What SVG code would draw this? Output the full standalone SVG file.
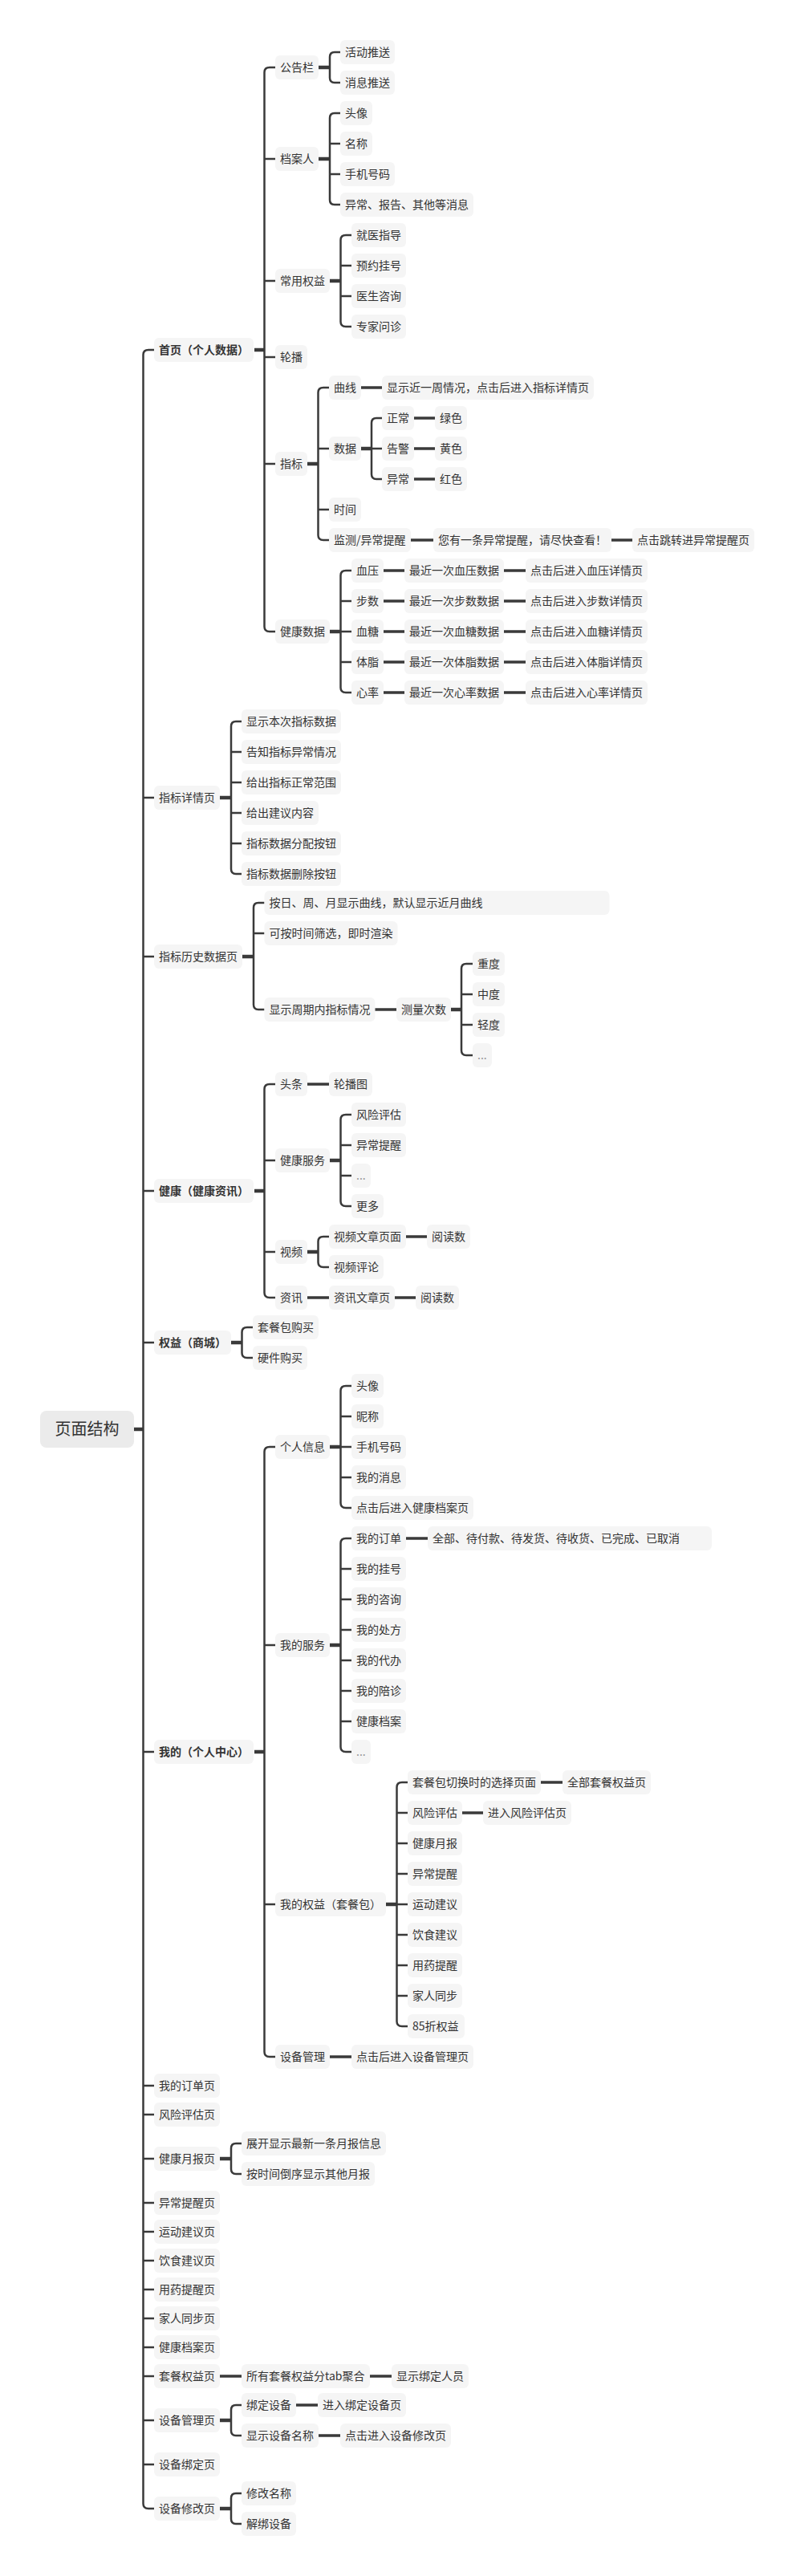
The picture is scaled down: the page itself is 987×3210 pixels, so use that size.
<svg xmlns="http://www.w3.org/2000/svg" width="987" height="3210" viewBox="0 0 987 3210">
<style>
.n rect{fill:#f5f5f5}
.n text{font-family:"Noto Sans CJK SC","Microsoft YaHei",sans-serif;font-size:14px;fill:#333}
.n text.b{font-weight:bold}
.n text.g{fill:#999}
#root rect{fill:#ebebeb}
#root text{font-family:"Noto Sans CJK SC",sans-serif;font-size:20px;fill:#333}
#connectors path{fill:none;stroke:#3a3a3a;stroke-width:2.5;stroke-linecap:butt}
#connectors path.p{stroke-width:4.5}
#connectors path.s{stroke-width:3.5}
</style>
<rect width="987" height="3210" fill="#fff"/>
<g id="connectors">
<!-- root -->
<path class="p" d="M167 1781H179"/>
<path d="M192 436H185Q178.5 436 178.5 442V3120Q178.5 3126 185 3126H192M178.5 994H192M178.5 1192H192M178.5 1484H192M178.5 1673H192M178.5 2183H192M178.5 2599H192M178.5 2635H192M178.5 2690H192M178.5 2745H192M178.5 2781H192M178.5 2817H192M178.5 2853H192M178.5 2889H192M178.5 2925H192M178.5 2961H192M178.5 3016H192M178.5 3071H192"/>
<!-- 首页 -->
<path class="p" d="M317 436H330"/>
<path d="M343 84H336Q329.5 84 329.5 90V781Q329.5 787 336 787H343M329.5 198H343M329.5 350H343M329.5 445H343M329.5 578H343"/>
<path class="p" d="M397 84H412"/>
<path d="M424 65H417Q411 65 411 71V97Q411 103 417 103H424"/>
<path class="p" d="M397 198H412"/>
<path d="M424 141H417Q411 141 411 147V249Q411 255 417 255H424M411 179H424M411 217H424"/>
<path class="p" d="M411 350H425"/>
<path d="M438 293H431Q424.5 293 424.5 299V401Q424.5 407 431 407H438M424.5 331H438M424.5 369H438"/>
<path class="p" d="M383 578H397"/>
<path d="M410 483H403Q396.5 483 396.5 489V667Q396.5 673 403 673H410M396.5 559H410M396.5 635H410"/>
<path class="s" d="M450 483H476"/>
<path class="p" d="M450 559H464"/>
<path d="M476 521H469Q463 521 463 527V591Q463 597 469 597H476M463 559H476"/>
<path class="s" d="M516 521H542M516 559H542M516 597H542"/>
<path class="s" d="M512 673H540M762 673H788"/>
<path class="p" d="M411 787H425"/>
<path d="M438 711H431Q424.5 711 424.5 717V857Q424.5 863 431 863H438M424.5 749H438M424.5 787H438M424.5 825H438"/>
<path class="s" d="M478 711H504M478 749H504M478 787H504M478 825H504M478 863H504M628 711H655M628 749H655M628 787H655M628 825H655M628 863H655"/>
<!-- 指标详情页 -->
<path class="p" d="M274 994H289"/>
<path d="M301 899H294Q288 899 288 905V1083Q288 1089 294 1089H301M288 937H301M288 975H301M288 1013H301M288 1051H301"/>
<!-- 指标历史数据页 -->
<path class="p" d="M302 1192H317"/>
<path d="M329.5 1125H322Q316 1125 316 1131V1252Q316 1258 322 1258H329.5M316 1163H329.5"/>
<path class="s" d="M467 1258H494"/>
<path class="p" d="M562 1258H576"/>
<path d="M589 1201H581Q575 1201 575 1207V1309Q575 1315 581 1315H589M575 1239H589M575 1277H589"/>
<!-- 健康 -->
<path class="p" d="M317 1484H330"/>
<path d="M343 1351H336Q329.5 1351 329.5 1357V1611Q329.5 1617 336 1617H343M329.5 1446H343M329.5 1560H343"/>
<path class="s" d="M383 1351H410"/>
<path class="p" d="M411 1446H425"/>
<path d="M438 1389H431Q424.5 1389 424.5 1395V1497Q424.5 1503 431 1503H438M424.5 1427H438M424.5 1465H438"/>
<path class="p" d="M383 1560H397"/>
<path d="M410 1541H403Q396.5 1541 396.5 1547V1573Q396.5 1579 403 1579H410"/>
<path class="s" d="M505 1541H532"/>
<path class="s" d="M383 1617H410M492 1617H518"/>
<!-- 权益 -->
<path class="p" d="M288 1673H302"/>
<path d="M315 1654H308Q301.5 1654 301.5 1660V1686Q301.5 1692 308 1692H315"/>
<!-- 我的 -->
<path class="p" d="M317 2183H330"/>
<path d="M343 1803H336Q329.5 1803 329.5 1809V2557Q329.5 2563 336 2563H343M329.5 2050H343M329.5 2373H343"/>
<path class="p" d="M411 1803H425"/>
<path d="M438 1727H431Q424.5 1727 424.5 1733V1873Q424.5 1879 431 1879H438M424.5 1765H438M424.5 1803H438M424.5 1841H438"/>
<path class="p" d="M411 2050H425"/>
<path d="M438 1917H431Q424.5 1917 424.5 1923V2177Q424.5 2183 431 2183H438M424.5 1955H438M424.5 1993H438M424.5 2031H438M424.5 2069H438M424.5 2107H438M424.5 2145H438"/>
<path class="s" d="M506 1917H533"/>
<path class="p" d="M481 2373H495"/>
<path d="M508 2221H501Q494.5 2221 494.5 2227V2519Q494.5 2525 501 2525H508M494.5 2259H508M494.5 2297H508M494.5 2335H508M494.5 2373H508M494.5 2411H508M494.5 2449H508M494.5 2487H508"/>
<path class="s" d="M674 2221H701M576 2259H602"/>
<path class="s" d="M411 2563H438"/>
<!-- 健康月报页 -->
<path class="p" d="M274 2690H289"/>
<path d="M301 2671H294Q288 2671 288 2677V2703Q288 2709 294 2709H301"/>
<!-- 套餐权益页 -->
<path class="s" d="M274 2961H301M461 2961H488"/>
<!-- 设备管理页 -->
<path class="p" d="M274 3016H289"/>
<path d="M301 2997H294Q288 2997 288 3003V3029Q288 3035 294 3035H301"/>
<path class="s" d="M369 2997H396M397 3035H424"/>
<!-- 设备修改页 -->
<path class="p" d="M274 3126H289"/>
<path d="M301 3107H294Q288 3107 288 3113V3139Q288 3145 294 3145H301"/>
</g>

<g id="root"><rect x="50" y="1758" width="117" height="46" rx="8"/><text x="108.5" y="1788" text-anchor="middle">页面结构</text></g>

<!-- Level 1 -->
<g id="n1" class="n"><rect x="192" y="421" width="124" height="30" rx="6"/><text class="b" x="198" y="441">首页（个人数据）</text></g>
<g id="n2" class="n"><rect x="192" y="979" width="82" height="30" rx="6"/><text x="198" y="999">指标详情页</text></g>
<g id="n3" class="n"><rect x="192" y="1177" width="110" height="30" rx="6"/><text x="198" y="1197">指标历史数据页</text></g>
<g id="n4" class="n"><rect x="192" y="1469" width="124" height="30" rx="6"/><text class="b" x="198" y="1489">健康（健康资讯）</text></g>
<g id="n5" class="n"><rect x="192" y="1658" width="96" height="30" rx="6"/><text class="b" x="198" y="1678">权益（商城）</text></g>
<g id="n6" class="n"><rect x="192" y="2168" width="124" height="30" rx="6"/><text class="b" x="198" y="2188">我的（个人中心）</text></g>
<g id="n7" class="n"><rect x="192" y="2584" width="82" height="30" rx="6"/><text x="198" y="2604">我的订单页</text></g>
<g id="n8" class="n"><rect x="192" y="2620" width="82" height="30" rx="6"/><text x="198" y="2640">风险评估页</text></g>
<g id="n9" class="n"><rect x="192" y="2675" width="82" height="30" rx="6"/><text x="198" y="2695">健康月报页</text></g>
<g id="n10" class="n"><rect x="192" y="2730" width="82" height="30" rx="6"/><text x="198" y="2750">异常提醒页</text></g>
<g id="n11" class="n"><rect x="192" y="2766" width="82" height="30" rx="6"/><text x="198" y="2786">运动建议页</text></g>
<g id="n12" class="n"><rect x="192" y="2802" width="82" height="30" rx="6"/><text x="198" y="2822">饮食建议页</text></g>
<g id="n13" class="n"><rect x="192" y="2838" width="82" height="30" rx="6"/><text x="198" y="2858">用药提醒页</text></g>
<g id="n14" class="n"><rect x="192" y="2874" width="82" height="30" rx="6"/><text x="198" y="2894">家人同步页</text></g>
<g id="n15" class="n"><rect x="192" y="2910" width="82" height="30" rx="6"/><text x="198" y="2930">健康档案页</text></g>
<g id="n16" class="n"><rect x="192" y="2946" width="82" height="30" rx="6"/><text x="198" y="2966">套餐权益页</text></g>
<g id="n17" class="n"><rect x="192" y="3001" width="82" height="30" rx="6"/><text x="198" y="3021">设备管理页</text></g>
<g id="n18" class="n"><rect x="192" y="3056" width="82" height="30" rx="6"/><text x="198" y="3076">设备绑定页</text></g>
<g id="n19" class="n"><rect x="192" y="3111" width="82" height="30" rx="6"/><text x="198" y="3131">设备修改页</text></g>

<!-- 首页 subtree -->
<g id="n1-1" class="n"><rect x="343" y="69" width="54" height="30" rx="6"/><text x="349" y="89">公告栏</text></g>
<g id="n1-1-1" class="n"><rect x="424" y="50" width="68" height="30" rx="6"/><text x="430" y="70">活动推送</text></g>
<g id="n1-1-2" class="n"><rect x="424" y="88" width="68" height="30" rx="6"/><text x="430" y="108">消息推送</text></g>
<g id="n1-2" class="n"><rect x="343" y="183" width="54" height="30" rx="6"/><text x="349" y="203">档案人</text></g>
<g id="n1-2-1" class="n"><rect x="424" y="126" width="40" height="30" rx="6"/><text x="430" y="146">头像</text></g>
<g id="n1-2-2" class="n"><rect x="424" y="164" width="40" height="30" rx="6"/><text x="430" y="184">名称</text></g>
<g id="n1-2-3" class="n"><rect x="424" y="202" width="68" height="30" rx="6"/><text x="430" y="222">手机号码</text></g>
<g id="n1-2-4" class="n"><rect x="424" y="240" width="166" height="30" rx="6"/><text x="430" y="260">异常、报告、其他等消息</text></g>
<g id="n1-3" class="n"><rect x="343" y="335" width="68" height="30" rx="6"/><text x="349" y="355">常用权益</text></g>
<g id="n1-3-1" class="n"><rect x="438" y="278" width="68" height="30" rx="6"/><text x="444" y="298">就医指导</text></g>
<g id="n1-3-2" class="n"><rect x="438" y="316" width="68" height="30" rx="6"/><text x="444" y="336">预约挂号</text></g>
<g id="n1-3-3" class="n"><rect x="438" y="354" width="68" height="30" rx="6"/><text x="444" y="374">医生咨询</text></g>
<g id="n1-3-4" class="n"><rect x="438" y="392" width="68" height="30" rx="6"/><text x="444" y="412">专家问诊</text></g>
<g id="n1-4" class="n"><rect x="343" y="430" width="40" height="30" rx="6"/><text x="349" y="450">轮播</text></g>
<g id="n1-5" class="n"><rect x="343" y="563" width="40" height="30" rx="6"/><text x="349" y="583">指标</text></g>
<g id="n1-5-1" class="n"><rect x="410" y="468" width="40" height="30" rx="6"/><text x="416" y="488">曲线</text></g>
<g id="n1-5-1-1" class="n"><rect x="476" y="468" width="264" height="30" rx="6"/><text x="482" y="488">显示近一周情况，点击后进入指标详情页</text></g>
<g id="n1-5-2" class="n"><rect x="410" y="544" width="40" height="30" rx="6"/><text x="416" y="564">数据</text></g>
<g id="n1-5-2-1" class="n"><rect x="476" y="506" width="40" height="30" rx="6"/><text x="482" y="526">正常</text></g>
<g id="n1-5-2-1-1" class="n"><rect x="542" y="506" width="40" height="30" rx="6"/><text x="548" y="526">绿色</text></g>
<g id="n1-5-2-2" class="n"><rect x="476" y="544" width="40" height="30" rx="6"/><text x="482" y="564">告警</text></g>
<g id="n1-5-2-2-1" class="n"><rect x="542" y="544" width="40" height="30" rx="6"/><text x="548" y="564">黄色</text></g>
<g id="n1-5-2-3" class="n"><rect x="476" y="582" width="40" height="30" rx="6"/><text x="482" y="602">异常</text></g>
<g id="n1-5-2-3-1" class="n"><rect x="542" y="582" width="40" height="30" rx="6"/><text x="548" y="602">红色</text></g>
<g id="n1-5-3" class="n"><rect x="410" y="620" width="40" height="30" rx="6"/><text x="416" y="640">时间</text></g>
<g id="n1-5-4" class="n"><rect x="410" y="658" width="102" height="30" rx="6"/><text x="416" y="678">监测/异常提醒</text></g>
<g id="n1-5-4-1" class="n"><rect x="540" y="658" width="222" height="30" rx="6"/><text x="546" y="678">您有一条异常提醒，请尽快查看！</text></g>
<g id="n1-5-4-1-1" class="n"><rect x="788" y="658" width="152" height="30" rx="6"/><text x="794" y="678">点击跳转进异常提醒页</text></g>
<g id="n1-6" class="n"><rect x="343" y="772" width="68" height="30" rx="6"/><text x="349" y="792">健康数据</text></g>
<g id="n1-6-1" class="n"><rect x="438" y="696" width="40" height="30" rx="6"/><text x="444" y="716">血压</text></g>
<g id="n1-6-1-1" class="n"><rect x="504" y="696" width="124" height="30" rx="6"/><text x="510" y="716">最近一次血压数据</text></g>
<g id="n1-6-1-1-1" class="n"><rect x="655" y="696" width="152" height="30" rx="6"/><text x="661" y="716">点击后进入血压详情页</text></g>
<g id="n1-6-2" class="n"><rect x="438" y="734" width="40" height="30" rx="6"/><text x="444" y="754">步数</text></g>
<g id="n1-6-2-1" class="n"><rect x="504" y="734" width="124" height="30" rx="6"/><text x="510" y="754">最近一次步数数据</text></g>
<g id="n1-6-2-1-1" class="n"><rect x="655" y="734" width="152" height="30" rx="6"/><text x="661" y="754">点击后进入步数详情页</text></g>
<g id="n1-6-3" class="n"><rect x="438" y="772" width="40" height="30" rx="6"/><text x="444" y="792">血糖</text></g>
<g id="n1-6-3-1" class="n"><rect x="504" y="772" width="124" height="30" rx="6"/><text x="510" y="792">最近一次血糖数据</text></g>
<g id="n1-6-3-1-1" class="n"><rect x="655" y="772" width="152" height="30" rx="6"/><text x="661" y="792">点击后进入血糖详情页</text></g>
<g id="n1-6-4" class="n"><rect x="438" y="810" width="40" height="30" rx="6"/><text x="444" y="830">体脂</text></g>
<g id="n1-6-4-1" class="n"><rect x="504" y="810" width="124" height="30" rx="6"/><text x="510" y="830">最近一次体脂数据</text></g>
<g id="n1-6-4-1-1" class="n"><rect x="655" y="810" width="152" height="30" rx="6"/><text x="661" y="830">点击后进入体脂详情页</text></g>
<g id="n1-6-5" class="n"><rect x="438" y="848" width="40" height="30" rx="6"/><text x="444" y="868">心率</text></g>
<g id="n1-6-5-1" class="n"><rect x="504" y="848" width="124" height="30" rx="6"/><text x="510" y="868">最近一次心率数据</text></g>
<g id="n1-6-5-1-1" class="n"><rect x="655" y="848" width="152" height="30" rx="6"/><text x="661" y="868">点击后进入心率详情页</text></g>

<!-- 指标详情页 subtree -->
<g id="n2-1" class="n"><rect x="301" y="884" width="124" height="30" rx="6"/><text x="307" y="904">显示本次指标数据</text></g>
<g id="n2-2" class="n"><rect x="301" y="922" width="124" height="30" rx="6"/><text x="307" y="942">告知指标异常情况</text></g>
<g id="n2-3" class="n"><rect x="301" y="960" width="124" height="30" rx="6"/><text x="307" y="980">给出指标正常范围</text></g>
<g id="n2-4" class="n"><rect x="301" y="998" width="96" height="30" rx="6"/><text x="307" y="1018">给出建议内容</text></g>
<g id="n2-5" class="n"><rect x="301" y="1036" width="124" height="30" rx="6"/><text x="307" y="1056">指标数据分配按钮</text></g>
<g id="n2-6" class="n"><rect x="301" y="1074" width="124" height="30" rx="6"/><text x="307" y="1094">指标数据删除按钮</text></g>

<!-- 指标历史数据页 subtree -->
<g id="n3-1" class="n"><rect x="329.5" y="1110" width="430" height="30" rx="6"/><text x="335.5" y="1130">按日、周、月显示曲线，默认显示近月曲线</text></g>
<g id="n3-2" class="n"><rect x="329.5" y="1148" width="166" height="30" rx="6"/><text x="335.5" y="1168">可按时间筛选，即时渲染</text></g>
<g id="n3-3" class="n"><rect x="329.5" y="1243" width="138" height="30" rx="6"/><text x="335.5" y="1263">显示周期内指标情况</text></g>
<g id="n3-3-1" class="n"><rect x="494" y="1243" width="68" height="30" rx="6"/><text x="500" y="1263">测量次数</text></g>
<g id="n3-3-1-1" class="n"><rect x="589" y="1186" width="40" height="30" rx="6"/><text x="595" y="1206">重度</text></g>
<g id="n3-3-1-2" class="n"><rect x="589" y="1224" width="40" height="30" rx="6"/><text x="595" y="1244">中度</text></g>
<g id="n3-3-1-3" class="n"><rect x="589" y="1262" width="40" height="30" rx="6"/><text x="595" y="1282">轻度</text></g>
<g id="n3-3-1-4" class="n"><rect x="589" y="1300" width="24" height="30" rx="6"/><text class="g" x="595" y="1320">...</text></g>

<!-- 健康 subtree -->
<g id="n4-1" class="n"><rect x="343" y="1336" width="40" height="30" rx="6"/><text x="349" y="1356">头条</text></g>
<g id="n4-1-1" class="n"><rect x="410" y="1336" width="54" height="30" rx="6"/><text x="416" y="1356">轮播图</text></g>
<g id="n4-2" class="n"><rect x="343" y="1431" width="68" height="30" rx="6"/><text x="349" y="1451">健康服务</text></g>
<g id="n4-2-1" class="n"><rect x="438" y="1374" width="68" height="30" rx="6"/><text x="444" y="1394">风险评估</text></g>
<g id="n4-2-2" class="n"><rect x="438" y="1412" width="68" height="30" rx="6"/><text x="444" y="1432">异常提醒</text></g>
<g id="n4-2-3" class="n"><rect x="438" y="1450" width="24" height="30" rx="6"/><text class="g" x="444" y="1470">...</text></g>
<g id="n4-2-4" class="n"><rect x="438" y="1488" width="40" height="30" rx="6"/><text x="444" y="1508">更多</text></g>
<g id="n4-3" class="n"><rect x="343" y="1545" width="40" height="30" rx="6"/><text x="349" y="1565">视频</text></g>
<g id="n4-3-1" class="n"><rect x="410" y="1526" width="96" height="30" rx="6"/><text x="416" y="1546">视频文章页面</text></g>
<g id="n4-3-1-1" class="n"><rect x="532" y="1526" width="54" height="30" rx="6"/><text x="538" y="1546">阅读数</text></g>
<g id="n4-3-2" class="n"><rect x="410" y="1564" width="68" height="30" rx="6"/><text x="416" y="1584">视频评论</text></g>
<g id="n4-4" class="n"><rect x="343" y="1602" width="40" height="30" rx="6"/><text x="349" y="1622">资讯</text></g>
<g id="n4-4-1" class="n"><rect x="410" y="1602" width="82" height="30" rx="6"/><text x="416" y="1622">资讯文章页</text></g>
<g id="n4-4-1-1" class="n"><rect x="518" y="1602" width="54" height="30" rx="6"/><text x="524" y="1622">阅读数</text></g>

<!-- 权益 subtree -->
<g id="n5-1" class="n"><rect x="315" y="1639" width="82" height="30" rx="6"/><text x="321" y="1659">套餐包购买</text></g>
<g id="n5-2" class="n"><rect x="315" y="1677" width="68" height="30" rx="6"/><text x="321" y="1697">硬件购买</text></g>

<!-- 我的 subtree -->
<g id="n6-1" class="n"><rect x="343" y="1788" width="68" height="30" rx="6"/><text x="349" y="1808">个人信息</text></g>
<g id="n6-1-1" class="n"><rect x="438" y="1712" width="40" height="30" rx="6"/><text x="444" y="1732">头像</text></g>
<g id="n6-1-2" class="n"><rect x="438" y="1750" width="40" height="30" rx="6"/><text x="444" y="1770">昵称</text></g>
<g id="n6-1-3" class="n"><rect x="438" y="1788" width="68" height="30" rx="6"/><text x="444" y="1808">手机号码</text></g>
<g id="n6-1-4" class="n"><rect x="438" y="1826" width="68" height="30" rx="6"/><text x="444" y="1846">我的消息</text></g>
<g id="n6-1-5" class="n"><rect x="438" y="1864" width="152" height="30" rx="6"/><text x="444" y="1884">点击后进入健康档案页</text></g>
<g id="n6-2" class="n"><rect x="343" y="2035" width="68" height="30" rx="6"/><text x="349" y="2055">我的服务</text></g>
<g id="n6-2-1" class="n"><rect x="438" y="1902" width="68" height="30" rx="6"/><text x="444" y="1922">我的订单</text></g>
<g id="n6-2-1-1" class="n"><rect x="533" y="1902" width="354" height="30" rx="6"/><text x="539" y="1922">全部、待付款、待发货、待收货、已完成、已取消</text></g>
<g id="n6-2-2" class="n"><rect x="438" y="1940" width="68" height="30" rx="6"/><text x="444" y="1960">我的挂号</text></g>
<g id="n6-2-3" class="n"><rect x="438" y="1978" width="68" height="30" rx="6"/><text x="444" y="1998">我的咨询</text></g>
<g id="n6-2-4" class="n"><rect x="438" y="2016" width="68" height="30" rx="6"/><text x="444" y="2036">我的处方</text></g>
<g id="n6-2-5" class="n"><rect x="438" y="2054" width="68" height="30" rx="6"/><text x="444" y="2074">我的代办</text></g>
<g id="n6-2-6" class="n"><rect x="438" y="2092" width="68" height="30" rx="6"/><text x="444" y="2112">我的陪诊</text></g>
<g id="n6-2-7" class="n"><rect x="438" y="2130" width="68" height="30" rx="6"/><text x="444" y="2150">健康档案</text></g>
<g id="n6-2-8" class="n"><rect x="438" y="2168" width="24" height="30" rx="6"/><text class="g" x="444" y="2188">...</text></g>
<g id="n6-3" class="n"><rect x="343" y="2358" width="138" height="30" rx="6"/><text x="349" y="2378">我的权益（套餐包）</text></g>
<g id="n6-3-1" class="n"><rect x="508" y="2206" width="166" height="30" rx="6"/><text x="514" y="2226">套餐包切换时的选择页面</text></g>
<g id="n6-3-1-1" class="n"><rect x="701" y="2206" width="110" height="30" rx="6"/><text x="707" y="2226">全部套餐权益页</text></g>
<g id="n6-3-2" class="n"><rect x="508" y="2244" width="68" height="30" rx="6"/><text x="514" y="2264">风险评估</text></g>
<g id="n6-3-2-1" class="n"><rect x="602" y="2244" width="110" height="30" rx="6"/><text x="608" y="2264">进入风险评估页</text></g>
<g id="n6-3-3" class="n"><rect x="508" y="2282" width="68" height="30" rx="6"/><text x="514" y="2302">健康月报</text></g>
<g id="n6-3-4" class="n"><rect x="508" y="2320" width="68" height="30" rx="6"/><text x="514" y="2340">异常提醒</text></g>
<g id="n6-3-5" class="n"><rect x="508" y="2358" width="68" height="30" rx="6"/><text x="514" y="2378">运动建议</text></g>
<g id="n6-3-6" class="n"><rect x="508" y="2396" width="68" height="30" rx="6"/><text x="514" y="2416">饮食建议</text></g>
<g id="n6-3-7" class="n"><rect x="508" y="2434" width="68" height="30" rx="6"/><text x="514" y="2454">用药提醒</text></g>
<g id="n6-3-8" class="n"><rect x="508" y="2472" width="68" height="30" rx="6"/><text x="514" y="2492">家人同步</text></g>
<g id="n6-3-9" class="n"><rect x="508" y="2510" width="71" height="30" rx="6"/><text x="514" y="2530">85折权益</text></g>
<g id="n6-4" class="n"><rect x="343" y="2548" width="68" height="30" rx="6"/><text x="349" y="2568">设备管理</text></g>
<g id="n6-4-1" class="n"><rect x="438" y="2548" width="152" height="30" rx="6"/><text x="444" y="2568">点击后进入设备管理页</text></g>

<!-- 健康月报页 -->
<g id="n9-1" class="n"><rect x="301" y="2656" width="180" height="30" rx="6"/><text x="307" y="2676">展开显示最新一条月报信息</text></g>
<g id="n9-2" class="n"><rect x="301" y="2694" width="166" height="30" rx="6"/><text x="307" y="2714">按时间倒序显示其他月报</text></g>

<!-- 套餐权益页 -->
<g id="n16-1" class="n"><rect x="301" y="2946" width="160" height="30" rx="6"/><text x="307" y="2966">所有套餐权益分tab聚合</text></g>
<g id="n16-1-1" class="n"><rect x="488" y="2946" width="96" height="30" rx="6"/><text x="494" y="2966">显示绑定人员</text></g>

<!-- 设备管理页 -->
<g id="n17-1" class="n"><rect x="301" y="2982" width="68" height="30" rx="6"/><text x="307" y="3002">绑定设备</text></g>
<g id="n17-1-1" class="n"><rect x="396" y="2982" width="110" height="30" rx="6"/><text x="402" y="3002">进入绑定设备页</text></g>
<g id="n17-2" class="n"><rect x="301" y="3020" width="96" height="30" rx="6"/><text x="307" y="3040">显示设备名称</text></g>
<g id="n17-2-1" class="n"><rect x="424" y="3020" width="138" height="30" rx="6"/><text x="430" y="3040">点击进入设备修改页</text></g>

<!-- 设备修改页 -->
<g id="n19-1" class="n"><rect x="301" y="3092" width="68" height="30" rx="6"/><text x="307" y="3112">修改名称</text></g>
<g id="n19-2" class="n"><rect x="301" y="3130" width="68" height="30" rx="6"/><text x="307" y="3150">解绑设备</text></g>
</svg>
